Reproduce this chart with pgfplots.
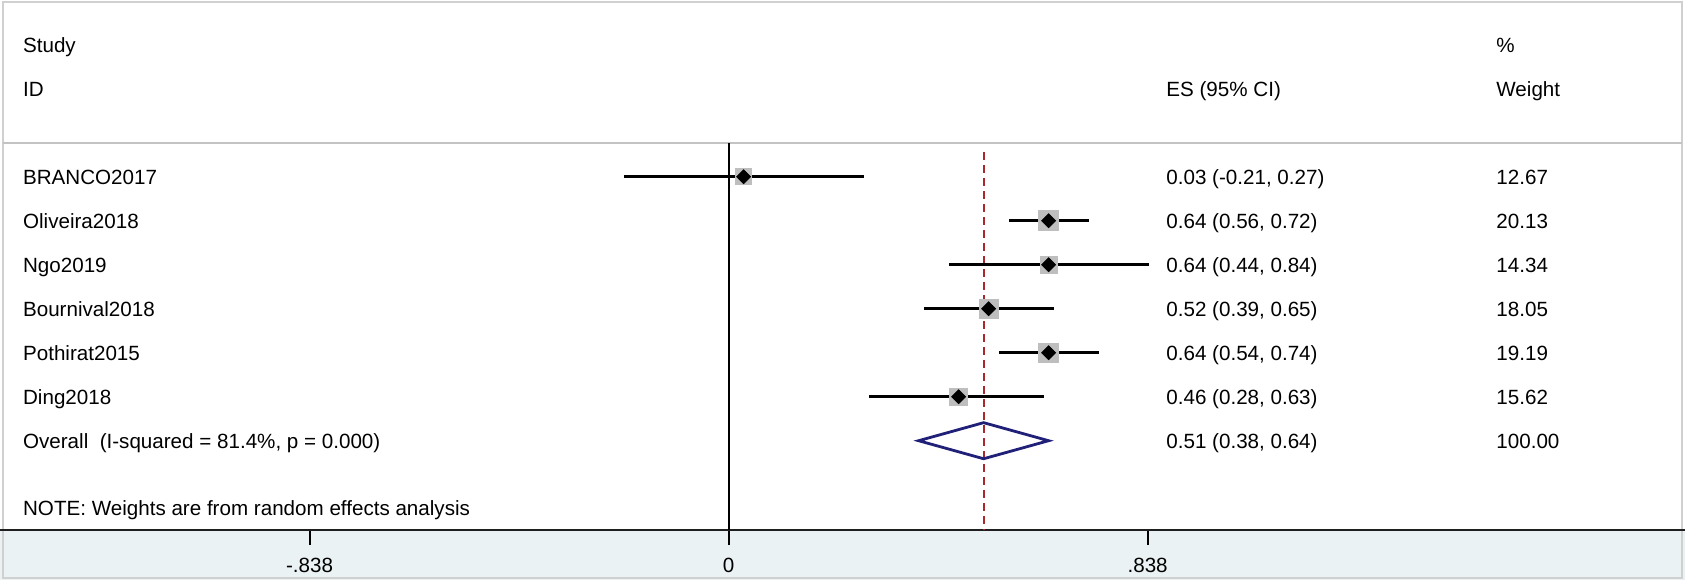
\documentclass[border=0pt]{standalone}
\usepackage{fontspec}
\setmainfont{Liberation Sans}
\usepackage{pgfplots}
\usepackage{pgfplotstable}
\pgfplotsset{compat=1.18}
\definecolor{bandcol}{RGB}{234,242,243}
\definecolor{framecol}{RGB}{208,208,208}
\definecolor{sepcol}{RGB}{195,195,195}
\definecolor{sqgray}{RGB}{190,190,190}
\definecolor{refred}{RGB}{168,40,45}
\definecolor{ovnavy}{RGB}{32,32,120}

\pgfplotstableread{
row es lo hi w
7 0.03 -0.21 0.27 12.67
6 0.64 0.56 0.72 20.13
5 0.64 0.44 0.84 14.34
4 0.52 0.39 0.65 18.05
3 0.64 0.54 0.74 19.19
2 0.46 0.28 0.63 15.62
}\studies

\begin{document}
\fontsize{10.3pt}{12pt}\selectfont
\begin{tikzpicture}
\useasboundingbox (0,0) rectangle (842.5pt,290pt);
\fill[bandcol] (0,0) rectangle (842.5pt,25pt);
\draw[framecol, line width=1pt] (1.5pt,1pt) rectangle (841pt,289pt);
\draw[sepcol, line width=1pt] (1.5pt,218.5pt) -- (841pt,218.5pt);

\begin{axis}[
  at={(0pt,290pt)}, anchor=north west,
  scale only axis, width=842.5pt, height=265pt,
  xmin=-1.4572, xmax=1.9128, ymin=-1.0295, ymax=11.0159,
  axis x line*=bottom, hide y axis,
  x axis line style={line width=1.35pt, black!88},
  xtick={-0.838,0,0.838}, xticklabels={-.838,0,.838},
  xtick pos=bottom, tick align=outside, major tick length=7.5pt,
  xtick style={line width=1pt, black},
  xticklabel style={font=\fontsize{10.3pt}{12pt}\selectfont, anchor=base, yshift=-13.85pt},
  clip=false,
]
% reference lines: null effect and pooled estimate
\addplot[black, line width=1.1pt] coordinates {(0,7.766) (0,-1.0295)};
\addplot[refred, line width=1pt, dash pattern=on 4pt off 2.5pt] coordinates {(0.51,7.56) (0.51,-1.0295)};
% weight squares
\addplot[scatter, only marks, mark=square*,
  scatter/use mapped color={draw=sqgray, fill=sqgray},
  visualization depends on={1.1125*sqrt(\thisrow{w}) \as \msz},
  scatter/@pre marker code/.append style={/tikz/mark size=\msz}]
  table[x=es, y=row]{\studies};
% confidence intervals
\addplot[black, only marks, mark=none,
  error bars/.cd, x dir=both, x explicit, error mark=none,
  error bar style={line width=1.3pt, black}]
  table[x=es, y=row,
        x error plus expr=\thisrow{hi}-\thisrow{es},
        x error minus expr=\thisrow{es}-\thisrow{lo}]{\studies};
% point estimates
\addplot[only marks, mark=square*, mark size=2.45pt, black, mark options={rotate=45}] table[x=es, y=row]{\studies};
% overall diamond
\addplot[ovnavy, line width=1.4pt] coordinates {(0.38,1) (0.51,1.41) (0.64,1) (0.51,0.59)} -- cycle;
\end{axis}

\begin{scope}[x=0.5pt, y=-0.5pt, yshift=290pt, every node/.style={inner sep=0pt, anchor=base west}]
\node at (22.7,52.3) {Study};
\node at (22.7,96.5) {ID};
\node at (1166,96.5) {ES (95\% CI)};
\node at (1496,52.3) {\%};
\node at (1496,96.5) {Weight};

\node at (22.7,184.0) {BRANCO2017};
\node at (22.7,228.0) {Oliveira2018};
\node at (22.7,272.0) {Ngo2019};
\node at (22.7,316.0) {Bournival2018};
\node at (22.7,360.0) {Pothirat2015};
\node at (22.7,404.0) {Ding2018};
\node at (22.7,448.5) {Overall\ \ (I-squared = 81.4\%, p = 0.000)};

\node at (1166,184.0) {0.03 (-0.21, 0.27)};
\node at (1166,228.0) {0.64 (0.56, 0.72)};
\node at (1166,272.0) {0.64 (0.44, 0.84)};
\node at (1166,316.0) {0.52 (0.39, 0.65)};
\node at (1166,360.0) {0.64 (0.54, 0.74)};
\node at (1166,404.0) {0.46 (0.28, 0.63)};
\node at (1166,448.5) {0.51 (0.38, 0.64)};

\node at (1496,184.0) {12.67};
\node at (1496,228.0) {20.13};
\node at (1496,272.0) {14.34};
\node at (1496,316.0) {18.05};
\node at (1496,360.0) {19.19};
\node at (1496,404.0) {15.62};
\node at (1496,448.5) {100.00};

\node at (22.7,515) {NOTE: Weights are from random effects analysis};
\end{scope}
\end{tikzpicture}
\end{document}
